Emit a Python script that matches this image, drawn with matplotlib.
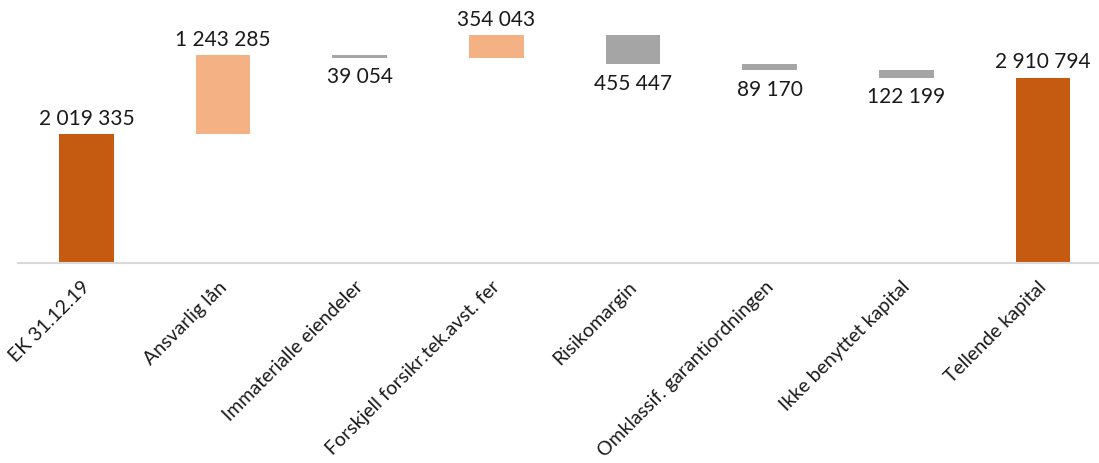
import matplotlib
matplotlib.use("Agg")
import matplotlib.pyplot as plt
import matplotlib.transforms as mtransforms
import numpy as np

categories = ["EK 31.12.19", "Ansvarlig lån", "Immaterialle eiendeler",
              "Forskjell forsikr.tek.avst. fer", "Risikomargin",
              "Omklassif. garantiordningen", "Ikke benyttet kapital",
              "Tellende kapital"]
values = [2019335, 1243285, -39054, 354043, -455447, -89170, -122199, 2910794]
is_total = [True, False, False, False, False, False, False, True]

C_TOTAL = "#C55A11"
C_UP = "#F4B183"
C_DOWN = "#A5A5A5"

plt.rcParams['font.family'] = ['Lato', 'DejaVu Sans']

fig = plt.figure(figsize=(10.99, 4.63), dpi=100)
W, H = 1099, 463
base_px = 263
ax = fig.add_axes([18 / W, (H - base_px) / H, 1 - 18 / W, base_px / H])

x = np.arange(len(categories))
bottoms, heights, colors = [], [], []
running = 0
for v, t in zip(values, is_total):
    if t:
        bottoms.append(0)
        heights.append(v)
        colors.append(C_TOTAL)
        running = v
    else:
        if v >= 0:
            bottoms.append(running)
            heights.append(v)
            colors.append(C_UP)
        else:
            bottoms.append(running + v)
            heights.append(-v)
            colors.append(C_DOWN)
        running += v

ax.bar(x, heights, bottom=bottoms, width=0.4, color=colors, zorder=2)


def fmt(v):
    return f"{abs(v):,}".replace(",", " ")


for xi, v, b, h, t in zip(x, values, bottoms, heights, is_total):
    if t or v >= 0:
        ax.annotate(fmt(v), (xi, b + h), xytext=(0, 4), textcoords="offset points",
                    ha="center", va="bottom", fontsize=15, color="#1a1a1a")
    else:
        ax.annotate(fmt(v), (xi, b), xytext=(0, -7), textcoords="offset points",
                    ha="center", va="top", fontsize=15, color="#1a1a1a")

ax.set_xlim(-0.5, 7.41)
ax.set_ylim(0, 4.13e6)
for s in ["top", "right", "left"]:
    ax.spines[s].set_visible(False)
ax.spines["bottom"].set_color("#D9D9D9")
ax.spines["bottom"].set_linewidth(1.5)
ax.set_yticks([])
ax.set_xticks(x)
ax.set_xticklabels(categories, rotation=45, ha="right", va="top",
                   rotation_mode="anchor", fontsize=14, color="#1a1a1a")
ax.tick_params(axis="x", length=0, pad=11)
offset = mtransforms.ScaledTranslation(-5 / 100, 0, fig.dpi_scale_trans)
for lbl in ax.get_xticklabels():
    lbl.set_transform(lbl.get_transform() + offset)

fig.savefig("out.png", dpi=100)
